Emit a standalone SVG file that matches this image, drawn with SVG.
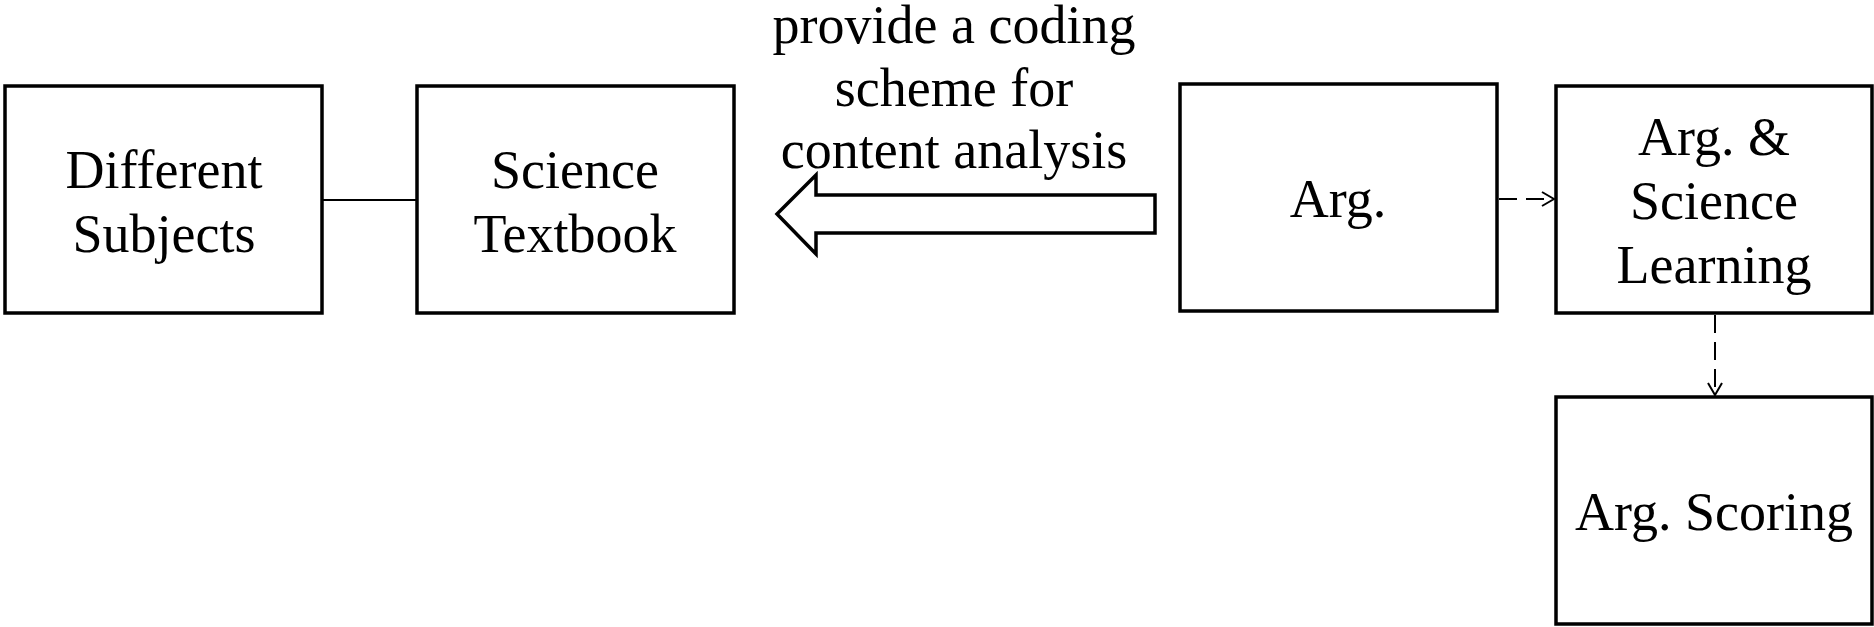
<svg xmlns="http://www.w3.org/2000/svg" width="1874" height="627" viewBox="0 0 1874 627">
<style>
.box{fill:#fff;stroke:#000;stroke-width:3.5}
.t{font-family:"Liberation Serif","Times New Roman",serif;font-size:54px;fill:#000;text-anchor:middle}
.ln{stroke:#000;stroke-width:2;fill:none}
.dash{stroke:#000;stroke-width:2;fill:none;stroke-dasharray:18 9}
</style>
<defs>
<marker id="open" viewBox="0 0 14 16" refX="13" refY="8" markerWidth="14" markerHeight="16" markerUnits="userSpaceOnUse" orient="auto">
<path d="M1,1 L13,8 L1,15" fill="none" stroke="#000" stroke-width="2"/>
</marker>
</defs>
<rect width="1874" height="627" fill="#fff"/>
<g id="connectors">
<line class="ln" x1="322" y1="200" x2="417" y2="200"/>
<polygon points="1155,195 816,195 816,175 777,214 816,254 816,233 1155,233" fill="#fff" stroke="#000" stroke-width="3.5" stroke-linejoin="miter"/>
<text class="t" x="954" y="43">provide a coding</text>
<text class="t" x="954" y="106">scheme for</text>
<text class="t" x="954" y="168">content analysis</text>
<path class="dash" d="M1499,199 L1554,199" marker-end="url(#open)"/>
<path class="dash" d="M1715,315 L1715,395" marker-end="url(#open)"/>
</g>
<g id="different-subjects">
<rect class="box" x="5" y="86" width="317" height="227"/>
<text class="t" x="164" y="188">Different</text>
<text class="t" x="164" y="252">Subjects</text>
</g>
<g id="science-textbook">
<rect class="box" x="417" y="86" width="317" height="227"/>
<text class="t" x="575" y="188">Science</text>
<text class="t" x="575" y="252">Textbook</text>
</g>
<g id="arg">
<rect class="box" x="1180" y="84" width="317" height="227"/>
<text class="t" x="1338" y="217">Arg.</text>
</g>
<g id="arg-science-learning">
<rect class="box" x="1556" y="86" width="316" height="227"/>
<text class="t" x="1714" y="155">Arg. &amp;</text>
<text class="t" x="1714" y="219">Science</text>
<text class="t" x="1714" y="283">Learning</text>
</g>
<g id="arg-scoring">
<rect class="box" x="1556" y="397" width="316" height="227"/>
<text class="t" x="1714" y="530">Arg. Scoring</text>
</g>
</svg>
